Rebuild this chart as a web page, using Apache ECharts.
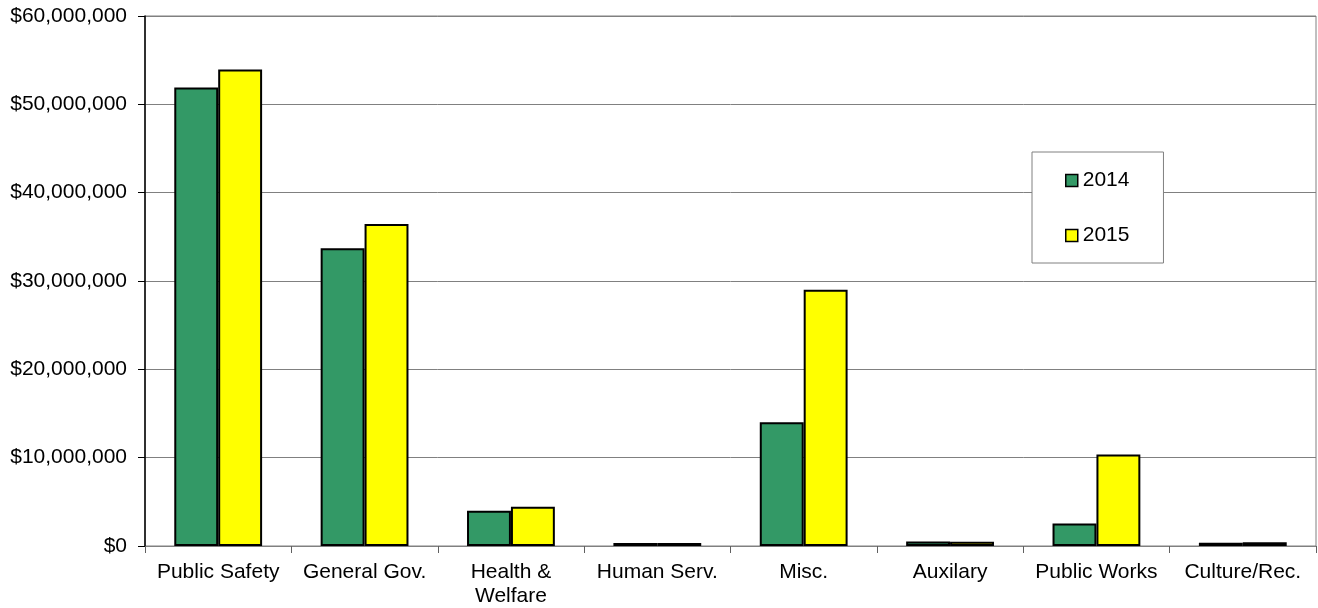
<!DOCTYPE html>
<html><head><meta charset="utf-8">
<script src="https://cdn.jsdelivr.net/npm/echarts@6/dist/echarts.min.js"></script>
<style>html,body{margin:0;padding:0;background:#fff}#c{width:1318px;height:608px}</style>
</head><body><div id="c"></div>
<script>
const categories = ['Public Safety', 'General Gov.', 'Health &\nWelfare', 'Human Serv.', 'Misc.', 'Auxilary', 'Public Works', 'Culture/Rec.'];
const seriesNames = ['2014', '2015'];
const values2014 = [51900000, 33700000, 4000000, 350000, 14000000, 500000, 2550000, 380000];
const values2015 = [53950000, 36450000, 4450000, 350000, 29000000, 480000, 10350000, 420000];
const yTicks = [0, 10000000, 20000000, 30000000, 40000000, 50000000, 60000000];

function money(v) {
  return '$' + String(Math.round(v)).replace(/\B(?=(\d{3})+(?!\d))/g, ',');
}
const font = 'Liberation Sans, Arial, sans-serif';
const chart = echarts.init(document.getElementById('c'));
chart.setOption({
  animation: false,
  backgroundColor: '#fff',
  grid: { left: 145, right: 2, top: 16, bottom: 62, show: true, borderColor: '#808080', borderWidth: 1 },
  legend: {
    orient: 'vertical', left: 1032, top: 152,
    data: seriesNames,
    backgroundColor: '#fff', borderColor: '#808080', borderWidth: 1,
    padding: [18, 34, 17, 33],
    itemWidth: 12, itemHeight: 12, itemGap: 34,
    icon: 'rect',
    itemStyle: { borderColor: '#000', borderWidth: 1.5 },
    textStyle: { fontFamily: font, fontSize: 21, color: '#000' }
  },
  xAxis: {
    type: 'category', data: categories,
    axisLine: { lineStyle: { color: '#808080', width: 1 } },
    axisTick: { show: true, length: 7, lineStyle: { color: '#606060' } },
    axisLabel: { interval: 0, margin: 14, fontFamily: font, fontSize: 21, color: '#000', lineHeight: 24 }
  },
  yAxis: {
    type: 'value', min: yTicks[0], max: yTicks[yTicks.length - 1], interval: 10000000,
    axisLine: { show: true, lineStyle: { color: '#000', width: 1.5 } },
    axisTick: { show: true, length: 7, lineStyle: { color: '#000' } },
    splitLine: { lineStyle: { color: '#808080', width: 1 } },
    axisLabel: { margin: 18, fontFamily: font, fontSize: 21, color: '#000', formatter: money }
  },
  series: [
    { name: seriesNames[0], type: 'bar', data: values2014, barGap: '0%', barCategoryGap: '40%',
      itemStyle: { color: '#339966', borderColor: '#000', borderWidth: 2 } },
    { name: seriesNames[1], type: 'bar', data: values2015, barGap: '0%', barCategoryGap: '40%',
      itemStyle: { color: '#FFFF00', borderColor: '#000', borderWidth: 2 } }
  ]
});
</script></body></html>
